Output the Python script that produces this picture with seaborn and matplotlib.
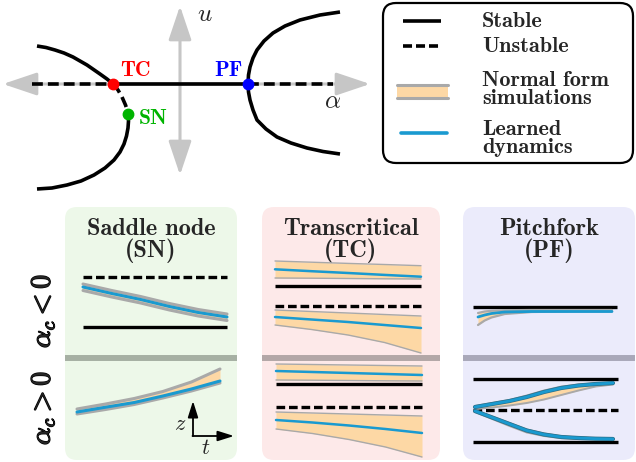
import matplotlib
matplotlib.use("Agg")
import matplotlib.pyplot as plt
import matplotlib.patheffects as pe
from matplotlib.patches import FancyBboxPatch
import seaborn as sns

sns.set_theme(style="white")
plt.rcParams["mathtext.fontset"] = "cm"
plt.rcParams["font.family"] = ["cmb10", "DejaVu Serif"]

W, H = 636, 462
BLUE = "#1a9ad0"
ORANGE = "#fdd8a5"
EDGE = "#a9a9a9"
DASH = (0, (2.6, 1.15))

# ---- bifurcation diagram (alpha, u) ----
left_top_a = [-0.67, -0.73, -0.80, -0.865, -0.93, -1.00, -1.07, -1.16, -1.25, -1.34, -1.43]
left_top_u = [0.0, 0.05, 0.10, 0.145, 0.19, 0.23, 0.27, 0.31, 0.34, 0.365, 0.38]
left_mid_a = [-0.67, -0.62, -0.58, -0.545, -0.525, -0.52]
left_mid_u = [0.0, -0.06, -0.13, -0.21, -0.27, -0.30]
left_low_a = [-0.52, -0.515, -0.52, -0.535, -0.56, -0.60, -0.66, -0.75, -0.86, -0.99, -1.13, -1.28, -1.43]
left_low_u = [-0.30, -0.37, -0.44, -0.52, -0.60, -0.68, -0.76, -0.84, -0.91, -0.97, -1.01, -1.04, -1.05]
pf_up_a = [0.68, 0.685, 0.70, 0.73, 0.77, 0.84, 0.93, 1.05, 1.20, 1.40, 1.60]
pf_up_u = [0.0, 0.09, 0.17, 0.26, 0.34, 0.43, 0.51, 0.58, 0.64, 0.69, 0.72]
pf_dn_a = [0.68, 0.685, 0.70, 0.73, 0.77, 0.86, 0.97, 1.11, 1.27, 1.43, 1.60]
pf_dn_u = [0.0, -0.08, -0.16, -0.26, -0.36, -0.45, -0.53, -0.59, -0.64, -0.675, -0.70]
zero_unstable_l = [-1.48, -0.67]
zero_stable = [-0.67, 0.68]
zero_unstable_r = [0.68, 1.53]
bif_names = ["TC", "SN", "PF"]
bif_a = [-0.67, -0.52, 0.68]
bif_u = [0.0, -0.30, 0.0]
bif_colors = ["#ff0000", "#00b400", "#0000ff"]

# ---- saddle node ----
sn_t = [0.0, 0.2, 0.4, 0.6, 0.8, 1.0]
sn_neg_hi = [4.3, 3.65, 3.05, 2.35, 1.75, 1.3]
sn_neg_lo = [3.65, 3.0, 2.4, 1.7, 1.1, 0.65]
sn_neg_learned = [4.0, 3.35, 2.75, 2.05, 1.45, 1.0]
sn_neg_stable = [0.0]
sn_neg_unstable = [5.0]
sn_pos_hi = [1.1, 1.6, 2.15, 2.85, 3.8, 5.1]
sn_pos_lo = [0.6, 1.05, 1.55, 2.2, 2.9, 3.7]
sn_pos_learned = [0.8, 1.28, 1.75, 2.4, 3.1, 3.9]

# ---- transcritical ----
tc_t = [0.0, 0.25, 0.5, 0.75, 1.0]
tc_neg_a_hi = [2.5, 2.38, 2.26, 2.15, 2.03]
tc_neg_a_lo = [0.8, 0.78, 0.75, 0.72, 0.7]
tc_neg_a_learned = [1.67, 1.48, 1.3, 1.11, 0.93]
tc_neg_b_hi = [-2.4, -2.55, -2.7, -2.85, -3.0]
tc_neg_b_lo = [-3.9, -4.35, -4.9, -5.65, -6.7]
tc_neg_b_learned = [-3.1, -3.35, -3.6, -3.9, -4.2]
tc_neg_stable = [0.0]
tc_neg_unstable = [-2.0]
tc_pos_a_hi = [2.0, 1.95, 1.9, 1.85, 1.8]
tc_pos_a_lo = [0.4, 0.38, 0.35, 0.32, 0.3]
tc_pos_a_learned = [1.3, 1.2, 1.1, 1.0, 0.9]
tc_pos_b_hi = [-2.8, -2.9, -3.0, -3.1, -3.2]
tc_pos_b_lo = [-4.5, -4.95, -5.55, -6.3, -7.3]
tc_pos_b_learned = [-3.6, -3.85, -4.15, -4.5, -4.9]
tc_pos_stable = [0.0]
tc_pos_unstable = [-2.3]

# ---- pitchfork ----
pf_neg_t = [0.0, 0.05, 0.1, 0.2, 0.4, 0.7, 1.0]
pf_neg_hi = [-0.6, -0.45, -0.38, -0.32, -0.3, -0.3, -0.3]
pf_neg_lo = [-1.8, -1.35, -1.05, -0.7, -0.5, -0.45, -0.45]
pf_neg_learned = [-1.0, -0.8, -0.65, -0.5, -0.45, -0.45, -0.45]
pf_neg_stable = [0.0]
pf_pos_t = [0.0, 0.125, 0.25, 0.375, 0.5, 0.625, 0.75, 0.875, 1.0]
pf_pos_up_hi = [0.4, 0.7, 1.0, 1.45, 1.95, 2.34, 2.55, 2.67, 2.75]
pf_pos_up_lo = [0.1, 0.25, 0.45, 0.7, 1.05, 1.5, 1.95, 2.35, 2.55]
pf_pos_up_learned = [0.3, 0.6, 0.9, 1.3, 1.8, 2.2, 2.45, 2.6, 2.7]
pf_pos_dn_hi = [-0.05, -0.65, -1.3, -1.95, -2.35, -2.62, -2.74, -2.82, -2.85]
pf_pos_dn_lo = [-0.2, -0.9, -1.6, -2.25, -2.6, -2.82, -2.9, -2.95, -2.97]
pf_pos_dn_learned = [-0.1, -0.75, -1.4, -2.05, -2.45, -2.7, -2.8, -2.87, -2.9]
pf_pos_stable = [3.1, -3.2]
pf_pos_unstable = [0.0]

panel_titles = ["Saddle node\n(SN)", "Transcritical\n(TC)", "Pitchfork\n(PF)"]
panel_colors = ["#edf8e9", "#fde9e9", "#ebebfb"]
sep_colors = ["#a6b0a3", "#b3a7a7", "#a9a8b9"]
panel_x = [(65, 237), (262, 440), (463, 635)]

fig = plt.figure(figsize=(6.36, 4.62), dpi=100)
fig.patch.set_facecolor("white")

bg = fig.add_axes([0, 0, 1, 1])
bg.set_xlim(0, W)
bg.set_ylim(H, 0)
bg.set_axis_off()


def sub_axes(x0, x1, ytop, ybot, ref):
    ax = fig.add_axes([x0 / W, 1 - ybot / H, (x1 - x0) / W, (ybot - ytop) / H])
    ax.set_xlim(0, 1)
    ax.set_ylim((ref - ybot) / 10, (ref - ytop) / 10)
    ax.set_axis_off()
    ax.patch.set_alpha(0)
    return ax


def fixed_lines(ax, stable, unstable, span):
    if stable:
        ax.hlines(stable, span[0], span[1], colors="black", lw=2.4, zorder=1, clip_on=False)
    if unstable:
        ax.hlines(unstable, span[0], span[1], colors="black", lw=2.4,
                  linestyles=[DASH], zorder=1, clip_on=False)


def band(ax, t, hi, lo, learned, edge_lw=1.8, blue_lw=2.0, dark=False):
    ax.fill_between(t, lo, hi, color=ORANGE, lw=0, zorder=2)
    sns.lineplot(x=t, y=hi, ax=ax, color=EDGE, lw=edge_lw, zorder=3, clip_on=False)
    sns.lineplot(x=t, y=lo, ax=ax, color=EDGE, lw=edge_lw, zorder=3, clip_on=False)
    effects = [pe.Stroke(linewidth=blue_lw + 1.0, foreground="#2b6e88"), pe.Normal()] if dark else None
    sns.lineplot(x=t, y=learned, ax=ax, color=BLUE, lw=blue_lw, zorder=4,
                 clip_on=False, path_effects=effects)


# panels
for (x0, x1), fc, sc, title in zip(panel_x, panel_colors, sep_colors, panel_titles):
    bg.add_patch(FancyBboxPatch((x0, 207), x1 - x0, 253,
                                boxstyle="round,pad=0,rounding_size=12",
                                fc=fc, ec="none", zorder=0))
    bg.hlines(358, x0, x1, colors=sc, lw=4.3, zorder=1)
    bg.text((x0 + x1) / 2, 218, title, ha="center", va="top", ma="center",
            fontsize=17.5, linespacing=0.92, zorder=5)

# row labels
bold = [pe.withStroke(linewidth=1.0, foreground="black")]
bg.text(42, 311, r"$\alpha_c < 0$", rotation=90, ha="center", va="center",
        fontsize=20, path_effects=bold)
bg.text(42, 408, r"$\alpha_c > 0$", rotation=90, ha="center", va="center",
        fontsize=20, path_effects=bold)

# saddle node
ax = sub_axes(83, 227, 265, 335, 327)
fixed_lines(ax, sn_neg_stable, sn_neg_unstable, (0, 1))
band(ax, sn_t, sn_neg_hi, sn_neg_lo, sn_neg_learned, edge_lw=2.2, blue_lw=2.2)
ax = sub_axes(77, 220, 362, 430, 420)
band(ax, sn_t, sn_pos_hi, sn_pos_lo, sn_pos_learned, edge_lw=2.2, blue_lw=2.2)

# z / t axes glyph
arrow_kw = dict(arrowstyle="-|>,head_length=0.7,head_width=0.22", color="black",
                lw=1.3, mutation_scale=14, shrinkA=0, shrinkB=0)
bg.annotate("", xy=(193, 401), xytext=(193, 436), arrowprops=arrow_kw)
bg.annotate("", xy=(234, 436), xytext=(192.5, 436), arrowprops=arrow_kw)
bg.text(180, 424, r"$z$", ha="center", va="center", fontsize=16)
bg.text(206, 448, r"$t$", ha="center", va="center", fontsize=16)

# transcritical
ax = sub_axes(275, 421, 255, 357, 286)
fixed_lines(ax, tc_neg_stable, tc_neg_unstable, (0, 1))
band(ax, tc_t, tc_neg_a_hi, tc_neg_a_lo, tc_neg_a_learned, edge_lw=1.0, blue_lw=1.8)
band(ax, tc_t, tc_neg_b_hi, tc_neg_b_lo, tc_neg_b_learned, edge_lw=1.0, blue_lw=1.8)
ax = sub_axes(276, 422, 360, 460, 384)
fixed_lines(ax, tc_pos_stable, tc_pos_unstable, (0, 1))
band(ax, tc_t, tc_pos_a_hi, tc_pos_a_lo, tc_pos_a_learned, edge_lw=1.0, blue_lw=1.8)
band(ax, tc_t, tc_pos_b_hi, tc_pos_b_lo, tc_pos_b_learned, edge_lw=1.0, blue_lw=1.8)

# pitchfork
ax = sub_axes(478, 612, 290, 340, 307)
fixed_lines(ax, pf_neg_stable, None, (-0.04, 1.04))
band(ax, pf_neg_t, pf_neg_hi, pf_neg_lo, pf_neg_learned, edge_lw=1.6, blue_lw=2.0)
ax = sub_axes(475, 613, 365, 455, 410)
fixed_lines(ax, pf_pos_stable, pf_pos_unstable, (-0.015, 1.036))
band(ax, pf_pos_t, pf_pos_up_hi, pf_pos_up_lo, pf_pos_up_learned, edge_lw=1.4, blue_lw=2.0, dark=True)
band(ax, pf_pos_t, pf_pos_dn_hi, pf_pos_dn_lo, pf_pos_dn_learned, edge_lw=1.4, blue_lw=2.0, dark=True)

# bifurcation diagram
bif = fig.add_axes([0, 1 - 200 / H, 380 / W, 200 / H])
bif.set_xlim(-1.8, 2.0)
bif.set_ylim(-1.16, 0.84)
bif.set_axis_off()
bif.patch.set_alpha(0)
gray_kw = dict(arrowstyle="<|-|>,head_length=0.95,head_width=0.32", color="#c6c6c6",
               lw=2.2, mutation_scale=22, shrinkA=0, shrinkB=0)
bif.annotate("", xy=(1.90, 0), xytext=(-1.77, 0), arrowprops=gray_kw, zorder=1)
bif.annotate("", xy=(0, 0.78), xytext=(0, -0.91), arrowprops=gray_kw, zorder=1)
line_kw = dict(color="black", lw=2.6, solid_capstyle="butt", zorder=3)
bif.plot(left_top_a, left_top_u, **line_kw)
bif.plot(left_mid_a, left_mid_u, ls=(0, (3.0, 1.4)), **line_kw)
bif.plot(left_low_a, left_low_u, **line_kw)
bif.plot(pf_up_a, pf_up_u, **line_kw)
bif.plot(pf_dn_a, pf_dn_u, **line_kw)
bif.plot(zero_unstable_l, [0, 0], ls=(0, (3.0, 1.4)), **line_kw)
bif.plot(zero_stable, [0, 0], **line_kw)
bif.plot(zero_unstable_r, [0, 0], ls=(0, (3.0, 1.4)), **line_kw)
for a, u, c in zip(bif_a, bif_u, bif_colors):
    bif.plot([a], [u], "o", color=c, ms=7.5, zorder=5)
bif.text(0.25, 0.69, r"$u$", ha="center", va="center", fontsize=18)
bif.text(1.53, -0.18, r"$\alpha$", ha="center", va="center", fontsize=18)
bg.text(135, 71, "TC", color="#ff0000", ha="center", va="center", fontsize=15.5)
bg.text(228, 71, "PF", color="#0000ff", ha="center", va="center", fontsize=15.5)
bg.text(153, 119, "SN", color="#00b400", ha="center", va="center", fontsize=15.5)

# legend
bg.add_patch(FancyBboxPatch((383, 3), 250, 160, boxstyle="round,pad=0,rounding_size=13",
                            fc="white", ec="black", lw=1.6, zorder=1))
bg.plot([403, 441], [21, 21], color="black", lw=2.6, solid_capstyle="butt")
bg.plot([403, 441], [46, 46], color="black", lw=2.6, ls=(0, (2.5, 1.1)))
bg.fill_between([397, 448], [85.5, 85.5], [96.5, 96.5], color=ORANGE, lw=0, zorder=2)
bg.plot([397, 448], [84.5, 84.5], color=EDGE, lw=2.2, zorder=3)
bg.plot([397, 448], [97.5, 97.5], color=EDGE, lw=2.2, zorder=3)
bg.plot([401, 447], [133, 133], color=BLUE, lw=2.6, zorder=3)
for txt, yb in [("Stable", 27), ("Unstable", 52), ("Normal form\nsimulations", 104),
                ("Learned\ndynamics", 153)]:
    bg.text(482, yb, txt, ha="left", va="baseline", fontsize=16, linespacing=0.95, zorder=4)

fig.savefig("out.png", dpi=100)
